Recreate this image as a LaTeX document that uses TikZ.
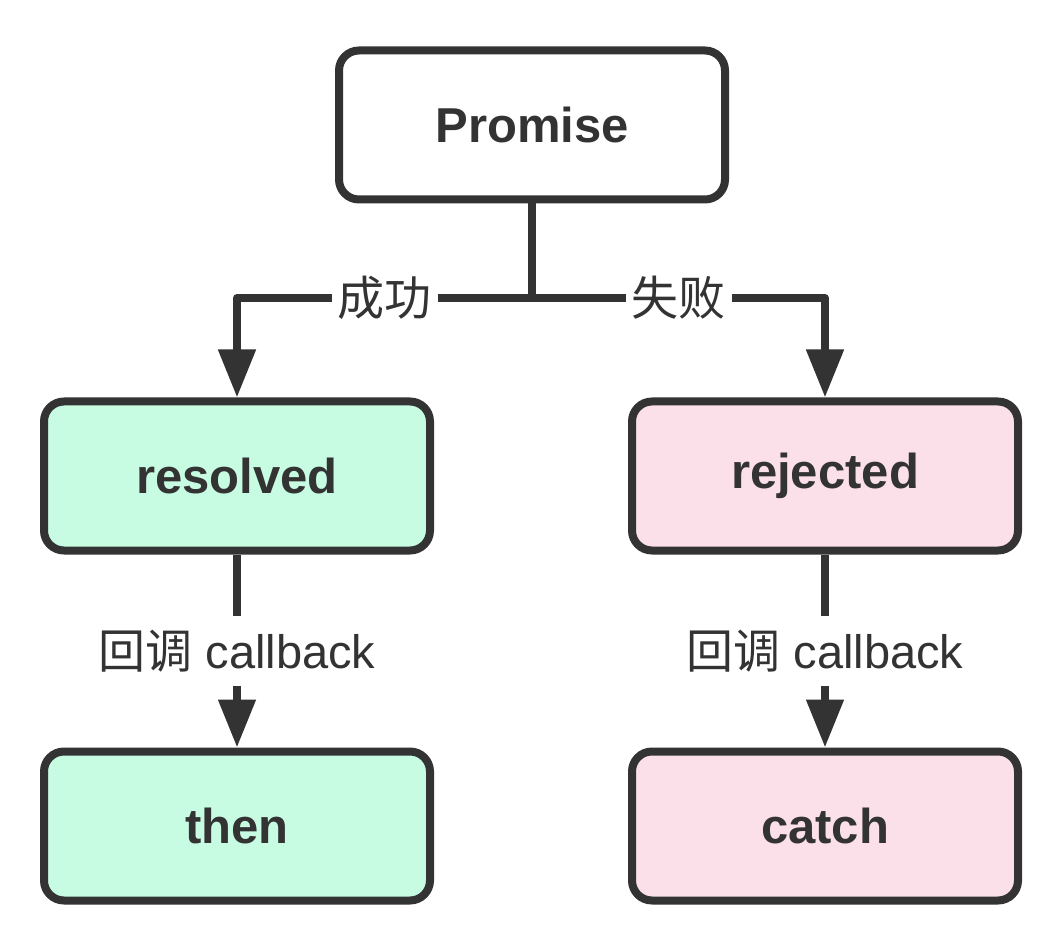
\documentclass[tikz,border=0pt]{standalone}
\usepackage{fontspec}
\setmainfont{Liberation Sans}
\newfontfamily\cjk{Noto Sans CJK SC}
\usetikzlibrary{positioning, arrows.meta}
\definecolor{ink}{HTML}{333333}
\definecolor{okgreen}{HTML}{C7FCE3}
\definecolor{errpink}{HTML}{FBE0EA}

\begin{document}
\begin{tikzpicture}[x=0.5pt, y=-0.5pt,
	box/.style={draw=ink, line width=4pt, rounded corners=10pt,
		minimum width=193pt, minimum height=74.5pt,
		font=\fontsize{24.5}{28}\selectfont\bfseries, text=ink},
	arr/.style={draw=ink, line width=4pt, line join=round,
		-{Triangle[length=24pt,width=18pt]}},
	lbl/.style={fill=white, text=ink, inner sep=3pt,
		font=\fontsize{23.5}{27}\selectfont}]
	\useasboundingbox (0,0) rectangle (1060,946);
	% boxes
	\node[box, fill=white] (promise) at (532,125) {Promise};
	\node[box, fill=okgreen] (resolved) at (237,476) {resolved};
	\node[box, fill=errpink] (rejected) at (825,476) {rejected};
	\node[box, fill=okgreen] (then) at (237,826) {then};
	\node[box, fill=errpink] (catch) at (825,826) {catch};
	% split below Promise
	\coordinate (split) at (532,298);
	\draw[draw=ink, line width=4pt] (promise.south) -- (split);
	\draw[arr] (split) -| node[lbl, pos=0.25] {\cjk 成功} (resolved.north);
	\draw[arr] (split) -| node[lbl, pos=0.25] {\cjk 失败} (rejected.north);
	% callbacks
	\draw[arr] (resolved.south) -- node[lbl, inner xsep=0pt, inner ysep=7pt] {{\cjk 回调} callback} (then.north);
	\draw[arr] (rejected.south) -- node[lbl, inner xsep=0pt, inner ysep=7pt] {{\cjk 回调} callback} (catch.north);
\end{tikzpicture}
\end{document}
